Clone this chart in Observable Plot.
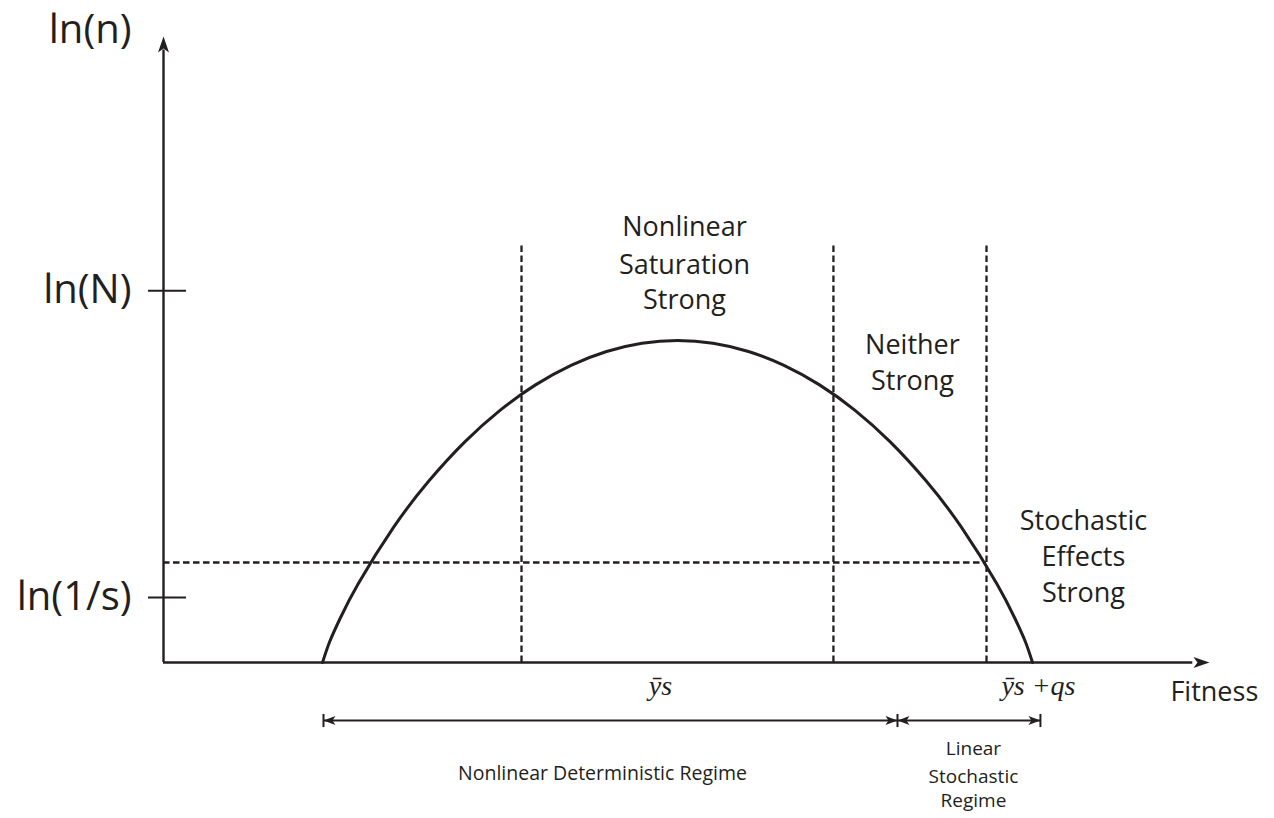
<!DOCTYPE html>
<html>
<head>
<meta charset="utf-8">
<script src="https://cdn.jsdelivr.net/npm/d3@7"></script>
<script src="https://cdn.jsdelivr.net/npm/@observablehq/plot@0.6"></script>
<style>
  html, body { margin: 0; padding: 0; background: #fff; overflow: hidden; }
  #chart svg { display: block; }
</style>
</head>
<body>
<div id="chart"></div>
<script>
// ---- data (abstract units: axis origin at 0, arrow tips at 100) ----
const curveX = [15.22, 15.90, 16.92, 18.62, 22.01, 25.41, 28.81, 32.20, 35.60, 39.00, 42.40, 45.79, 49.19,
                52.59, 55.98, 59.38, 62.78, 66.18, 69.57, 72.97, 76.37, 79.76, 81.46, 82.48, 83.16];
const curveY = [0, 3.31, 7.12, 12.56, 21.62, 29.07, 35.26, 40.35, 44.42, 47.55, 49.76, 51.08, 51.52,
                51.08, 49.76, 47.55, 44.42, 40.35, 35.26, 29.07, 21.62, 12.56, 7.12, 3.31, 0];

const regimeBounds = [34.26, 64.11, 78.76];   // dashed verticals
const dashTop = 67.0;
const stochLevel = 16.0;                       // ln(1/s) crossing (dashed horizontal)

const yTickLabels = ["ln(n)", "ln(N)", "ln(1/s)"];
const yTickValues = [101.1, 59.5, 10.4];

const xTickLabels = ["ȳs", "ȳs +qs"];
const xTickValues = [47.56, 83.73];

const regionLines = ["Nonlinear", "Saturation", "Strong", "Neither", "Strong", "Stochastic", "Effects", "Strong"];
const regionX =     [49.86, 49.86, 49.86, 71.67, 71.67, 88.04, 88.04, 88.04];
const regionY =     [69.6, 63.5, 57.9, 50.7, 45.0, 22.6, 16.8, 11.0];

const intervalEdges = [15.31, 70.24, 83.92];
const intervalLevel = -9.28;

const regimeLines = ["Nonlinear Deterministic Regime", "Linear", "Stochastic", "Regime"];
const regimeX =     [42.01, 77.51, 77.51, 77.51];
const regimeY =     [-17.76, -13.76, -18.24, -22.08];

// ---- build tables ----
const ink = "#231f20";
const curve = curveX.map((x, i) => ({x, y: curveY[i]}));
const yTicks = yTickLabels.map((label, i) => ({label, value: yTickValues[i]}));
const xTicks = xTickLabels.map((label, i) => ({label, value: xTickValues[i]}));
const regions = regionLines.map((t, i) => ({t, x: regionX[i], y: regionY[i]}));
const regimes = regimeLines.map((t, i) => ({t, x: regimeX[i], y: regimeY[i]}));
const segments = [
  {x1: intervalEdges[0], x2: intervalEdges[1]},
  {x1: intervalEdges[1], x2: intervalEdges[2]}
];
const intervalHeads = [
  {x: intervalEdges[0], a: 180},
  {x: intervalEdges[1], a: 0},
  {x: intervalEdges[1], a: 180},
  {x: intervalEdges[2], a: 0}
];

// arrowhead symbols (tip at origin, pointing right)
const axisHead = {draw(ctx) { ctx.moveTo(1, 0); ctx.lineTo(-15, -5.5); ctx.lineTo(-11, 0); ctx.lineTo(-15, 5.5); ctx.closePath(); }};
const smallHead = {draw(ctx) { ctx.moveTo(0, 0); ctx.lineTo(-12, -4.5); ctx.lineTo(-9, 0); ctx.lineTo(-12, 4.5); ctx.closePath(); }};

const sans = "'Open Sans', 'DejaVu Sans', sans-serif";
const serif = "'Liberation Serif', 'DejaVu Serif', serif";

const chart = Plot.plot({
  width: 1274,
  height: 818,
  margin: 0,
  x: {domain: [-15.6, 106.32], axis: null},
  y: {domain: [-24.96, 105.92], axis: null},
  style: {background: "#fff", color: ink},
  marks: [
    // dashed guides
    Plot.ruleX(regimeBounds, {y1: 0, y2: dashTop, stroke: ink, strokeWidth: 2.3, strokeDasharray: "6.5,3.5"}),
    Plot.ruleY([stochLevel], {x1: 0, x2: regimeBounds[2], stroke: ink, strokeWidth: 2.3, strokeDasharray: "6.5,3.5"}),
    // axes
    Plot.ruleX([0], {y1: 0, y2: 98, stroke: ink, strokeWidth: 2.4}),
    Plot.ruleY([0], {x1: 0, x2: 98.5, stroke: ink, strokeWidth: 2.4}),
    Plot.dot([{x: 0, y: 100, a: -90}, {x: 100, y: 0, a: 0}], {x: "x", y: "y", rotate: "a", symbol: axisHead, fill: ink, stroke: "none"}),
    // y ticks and labels
    Plot.ruleY(yTicks.slice(1), {y: "value", x1: -1.44, x2: 2.2, stroke: ink, strokeWidth: 2}),
    Plot.text(yTicks, {x: -3.06, y: "value", text: "label", textAnchor: "end", fontSize: 40, fontFamily: sans, fill: ink}),
    // curve
    Plot.line(curve, {x: "x", y: "y", curve: "natural", stroke: ink, strokeWidth: 3}),
    // x labels
    Plot.text(xTicks, {x: "value", y: -3.84, text: "label", fontSize: 28, fontFamily: serif, fontStyle: "italic", fill: ink}),
    Plot.text(["Fitness"], {x: 96.36, y: -4.8, text: d => d, textAnchor: "start", fontSize: 27, fontFamily: sans, fill: ink}),
    // region annotations
    Plot.text(regions, {x: "x", y: "y", text: "t", fontSize: 27, fontFamily: sans, fill: ink}),
    // regime intervals
    Plot.link(segments, {x1: "x1", x2: "x2", y1: intervalLevel, y2: intervalLevel, stroke: ink, strokeWidth: 2}),
    Plot.link(intervalEdges, {x1: d => d, x2: d => d, y1: intervalLevel - 1.05, y2: intervalLevel + 1.05, stroke: ink, strokeWidth: 2}),
    Plot.dot(intervalHeads, {x: "x", y: intervalLevel, rotate: "a", symbol: smallHead, fill: ink, stroke: "none"}),
    Plot.text(regimes.slice(0, 1), {x: "x", y: "y", text: "t", fontSize: 19.5, fontFamily: sans, fill: ink}),
    Plot.text(regimes.slice(1), {x: "x", y: "y", text: "t", fontSize: 19, fontFamily: sans, fill: ink})
  ]
});
document.getElementById("chart").appendChild(chart);
</script>
</body>
</html>
